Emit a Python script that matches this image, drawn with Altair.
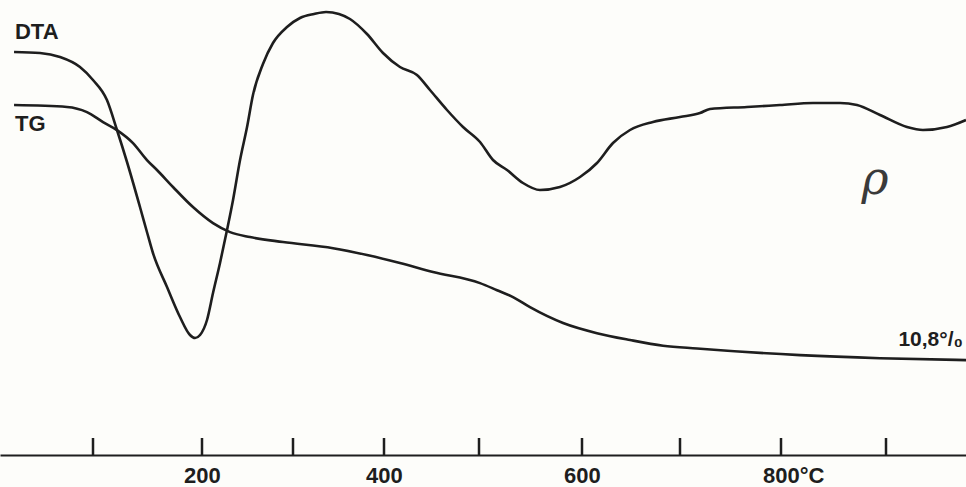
import altair as alt
import pandas as pd

# ---- data (temperature in °C) ----
dta_temp = [15.1, 43.0, 64.5, 86.0, 100.0, 112.8, 122.0, 131.2, 143.1, 149.5,
            155.0, 167.9, 179.8, 189.0, 193.6, 198.2, 205.5, 212.1, 219.8, 227.5,
            234.1, 241.8, 249.5, 256.0, 267.0, 278.0, 293.4, 307.7, 323.1, 336.3,
            350.5, 362.6, 381.3, 398.9, 416.8, 434.7, 448.4, 466.3, 483.2, 501.0,
            513.6, 527.2, 542.7, 559.2, 578.6, 598.1, 615.3, 631.6, 649.0, 672.4,
            700.0, 719.8, 729.7, 766.3, 799.0, 830.5, 856.2, 872.4, 894.3, 920.0,
            935.2, 958.1, 976.2]
dta_signal = [40.3, 40.2, 39.8, 38.8, 37.5, 35.5, 32.5, 29.3, 24.8, 22.3,
              20.2, 16.8, 13.8, 12.0, 11.7, 12.0, 13.5, 16.2, 19.2, 22.5,
              25.5, 29.5, 32.8, 36.0, 39.1, 41.2, 42.8, 43.7, 44.1, 44.3,
              44.1, 43.6, 42.1, 40.2, 38.8, 38.0, 36.5, 34.5, 32.8, 31.3,
              29.5, 28.5, 27.2, 26.5, 26.8, 27.8, 29.2, 31.2, 32.5, 33.3,
              33.8, 34.2, 34.6, 34.8, 35.0, 35.2, 35.2, 35.0, 34.0, 32.8,
              32.5, 32.8, 33.5]

tg_temp = [15.1, 72.0, 93.5, 109.2, 122.0, 136.7, 149.5, 158.7, 173.4, 191.7,
           212.1, 230.8, 252.7, 289.0, 344.0, 381.3, 416.8, 451.6, 501.0, 517.5,
           533.0, 549.5, 581.6, 615.3, 649.0, 682.7, 716.8, 818.1, 894.3, 976.2]
tg_loss = [0.0, 0.08, 0.30, 0.72, 1.06, 1.61, 2.33, 2.75, 3.47, 4.32,
           5.00, 5.38, 5.59, 5.80, 6.06, 6.35, 6.69, 7.07, 7.54, 7.84,
           8.13, 8.56, 9.23, 9.66, 9.95, 10.19, 10.31, 10.59, 10.72, 10.80]

tick_values = [100, 200, 300, 400, 500, 600, 700, 800, 900]
label_values = [200, 400, 600, 800]
label_texts = ["200", "400", "600", "800°C"]

dta_label = ["DTA"]
dta_label_pos = [(16.1, 42.3)]
tg_label_left = ["TG"]
tg_label_left_pos = [(16.1, 0.82)]
tg_label_right = ["10,8°/\u2080"]
tg_label_right_pos = [(973.3, 9.95)]
mark_text = ["ρ"]
mark_pos = [(889.5, 27.5)]

# the printed temperature axis is slightly non-uniform: piecewise-linear scale
x_domain = [0, 100, 200, 300, 400, 500, 600, 700, 800, 900, 976.2]
x_range = [0, 93, 202, 293, 384, 479, 582, 680, 781, 886, 966]

# ---- tables ----
dta_df = pd.DataFrame({"T": dta_temp, "v": dta_signal})
tg_df = pd.DataFrame({"T": tg_temp, "v": tg_loss})
ticks_df = pd.DataFrame({"T": tick_values})
labels_df = pd.DataFrame({"T": label_values, "text": label_texts})
dta_lab_df = pd.DataFrame({"T": [p[0] for p in dta_label_pos], "v": [p[1] for p in dta_label_pos], "text": dta_label})
tgl_df = pd.DataFrame({"T": [p[0] for p in tg_label_left_pos], "v": [p[1] for p in tg_label_left_pos], "text": tg_label_left})
tgr_df = pd.DataFrame({"T": [p[0] for p in tg_label_right_pos], "v": [p[1] for p in tg_label_right_pos], "text": tg_label_right})
mark_df = pd.DataFrame({"T": [p[0] for p in mark_pos], "v": [p[1] for p in mark_pos], "text": mark_text})

FONT = "Liberation Sans, Arial, sans-serif"
INK = "#1e1e1e"

xscale = alt.Scale(domain=x_domain, range=x_range, nice=False, zero=False)
x_enc = alt.X("T:Q", scale=xscale, title=None)
dta_y = alt.Scale(domain=[0, 45.5], nice=False, zero=False)
tg_y = alt.Scale(domain=[-4.45, 14.82], nice=False, zero=False, reverse=True)

dta_line = alt.Chart(dta_df).mark_line(color=INK, strokeWidth=2.6, interpolate="monotone").encode(
    x=x_enc, y=alt.Y("v:Q", scale=dta_y, axis=None))
dta_text = alt.Chart(dta_lab_df).mark_text(font=FONT, fontWeight="bold", fontSize=22, align="left",
                                           baseline="middle", color=INK).encode(
    x=x_enc, y=alt.Y("v:Q", scale=dta_y, axis=None), text="text:N")
mark = alt.Chart(mark_df).mark_text(font="DejaVu Serif", fontStyle="italic", fontSize=46, align="center",
                                    baseline="middle", color="#3a3a3a").encode(
    x=x_enc, y=alt.Y("v:Q", scale=dta_y, axis=None), text="text:N")
dta_layer = alt.layer(dta_line, dta_text, mark)

tg_line = alt.Chart(tg_df).mark_line(color=INK, strokeWidth=2.6, interpolate="monotone").encode(
    x=x_enc, y=alt.Y("v:Q", scale=tg_y, axis=None))
tg_text_l = alt.Chart(tgl_df).mark_text(
    font=FONT, fontWeight="bold", fontSize=22, align="left", baseline="middle", color=INK).encode(
    x=x_enc, y=alt.Y("v:Q", scale=tg_y, axis=None), text="text:N")
tg_text_r = alt.Chart(tgr_df).mark_text(
    font=FONT, fontWeight="bold", fontSize=21, align="right", baseline="middle", color=INK).encode(
    x=x_enc, y=alt.Y("v:Q", scale=tg_y, axis=None), text="text:N")
tg_layer = alt.layer(tg_line, tg_text_l, tg_text_r)

ticks = alt.Chart(ticks_df).mark_rule(color=INK, strokeWidth=2.5).encode(
    x=x_enc, y=alt.value(438), y2=alt.value(455))
tick_labels = alt.Chart(labels_df).mark_text(font=FONT, fontWeight="bold", fontSize=22, align="left",
                                             dx=-18, baseline="middle", color=INK).encode(
    x=x_enc, y=alt.value(476), text="text:N")
axis_layer = alt.layer(ticks, tick_labels)

chart = alt.layer(dta_layer, tg_layer, axis_layer).resolve_scale(y="independent").properties(
    width=966, height=455,
    autosize=alt.AutoSizeParams(type="none"),
    padding={"left": 0, "top": 0, "right": 0, "bottom": 32},
    background="#fdfdfa",
).configure_view(stroke=None).configure_axis(
    grid=False, labels=False, ticks=False, domain=True, domainColor=INK, domainWidth=2, title=None)

chart.save("out.html", embed_options={"renderer": "svg", "actions": False})
